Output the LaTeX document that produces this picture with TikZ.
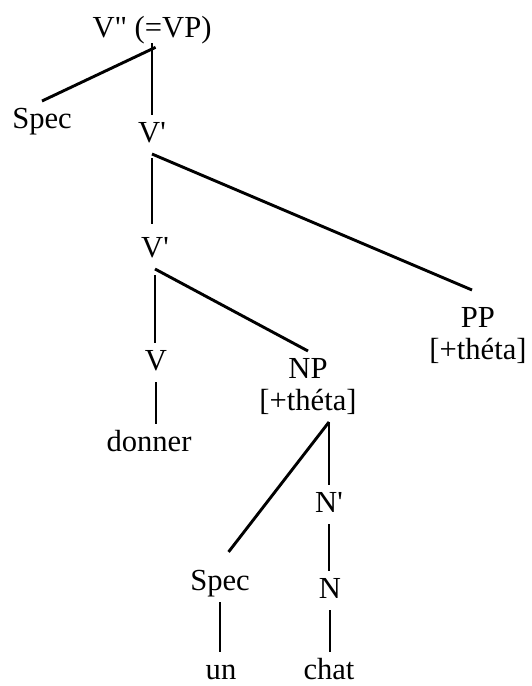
\documentclass[tikz,border=0pt]{standalone}
\usepackage{fontspec}
\setmainfont{Liberation Serif}[Ligatures=TeXOff]
\usetikzlibrary{positioning}
\tikzset{
    catnode/.style = {draw=none, fill=none, rectangle, anchor=base, inner xsep=0pt, inner ysep=3pt,
      outer sep=0pt, text height=10.5pt, text depth=3pt, font=\fontsize{15.3}{18}\selectfont},
    featnode/.style = {catnode, anchor=north, below=-3.5pt of #1},
    branch/.style = {black, line width=1.45pt, -}
}
\begin{document}
\begin{tikzpicture}[x=0.5pt, y=-0.5pt]
    \path [use as bounding box] (0,0) rectangle (531,686);

    \node [catnode, name=vp] at (152,37) {V" (=VP)};
    \node [catnode, name=spec1] at (42,128) {Spec};
    \node [catnode, name=vbar1] at (152,142) {V'};
    \node [catnode, name=vbar2] at (155,257) {V'};
    \node [catnode, name=pp] at (478,327) {PP};
    \node [featnode=pp, name=ppfeat] {[+théta]};
    \node [catnode, name=v] at (156,370) {V};
    \node [catnode, name=np] at (308,378) {NP};
    \node [featnode=np, name=npfeat] {[+théta]};
    \node [catnode, name=donner] at (149,451) {donner};
    \node [catnode, name=nbar] at (329,512) {N'};
    \node [catnode, name=spec2] at (220,590) {Spec};
    \node [catnode, name=n] at (330,598) {N};
    \node [catnode, name=un] at (221,679) {un};
    \node [catnode, name=chat] at (329,679) {chat};

    \draw [branch, shorten <=-2pt] (vp.south) -- (spec1.north);
    \draw [branch, shorten <=-3pt] (vp.south) -- (vp.south |- vbar1.north);
    \draw [branch, shorten <=2pt, shorten >=3pt] (vbar1.south) -- (vbar1.south |- vbar2.north);
    \draw [branch] (vbar1.south) -- ([xshift=-3pt, yshift=5pt]pp.north);
    \draw [branch, shorten <=3pt] (vbar2.south) -- (vbar2.south |- v.north);
    \draw [branch] (vbar2.south) -- (np.north);
    \draw [branch] (v.south) -- (v.south |- donner.north);
    \draw [branch, shorten >=7pt] (npfeat.south -| nbar) -- (spec2.north);
    \draw [branch] (npfeat.south -| nbar) -- (nbar.north);
    \draw [branch] (nbar.south) -- (nbar.south |- n.north);
    \draw [branch] (spec2.south) -- (spec2.south |- un.north);
    \draw [branch] (n.south) -- (n.south |- chat.north);
\end{tikzpicture}
\end{document}
